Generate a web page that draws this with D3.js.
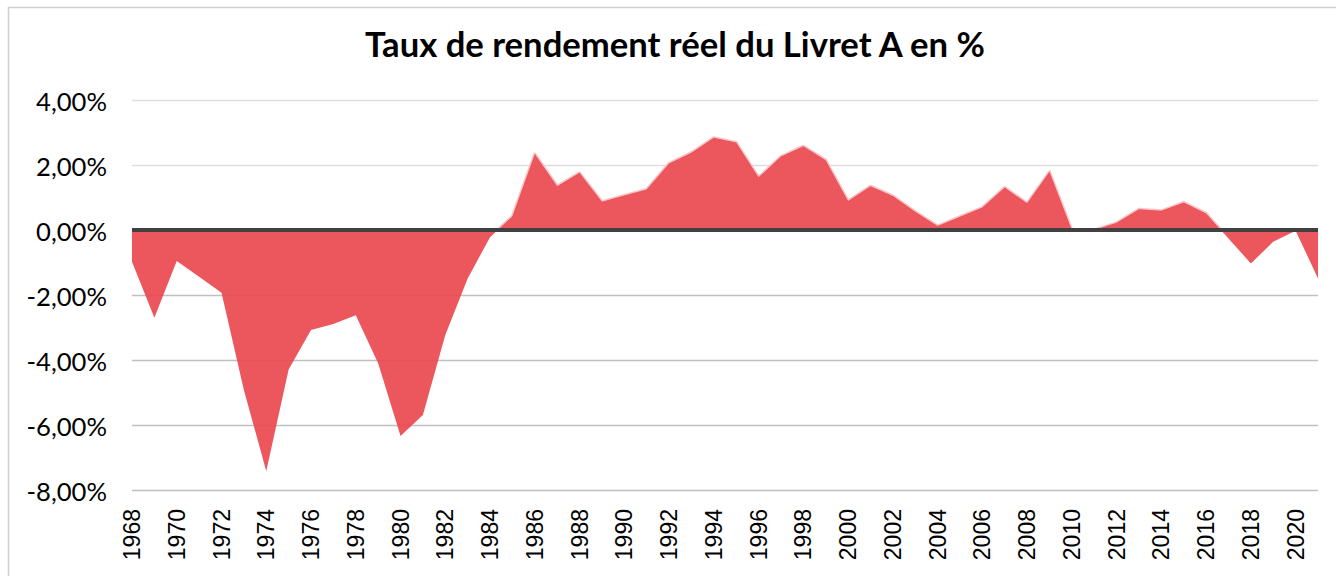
<!DOCTYPE html>
<html>
<head>
<meta charset="utf-8">
<script src="https://cdn.jsdelivr.net/npm/d3@7"></script>
<style>
  html, body { margin: 0; padding: 0; background: #fff; }
  svg { display: block; }
</style>
</head>
<body>
<svg id="chart" width="1336" height="576"></svg>
<script>
const years = d3.range(1968, 2022);
const rates = [
  -0.98, -2.70, -0.95, -1.44, -1.93, -4.92, -7.42, -4.29, -3.08, -2.89,
  -2.62, -4.10, -6.34, -5.69, -3.23, -1.49, -0.22, 0.42, 2.34, 1.35,
  1.76, 0.87, 1.06, 1.25, 2.05, 2.38, 2.84, 2.69, 1.62, 2.26,
  2.58, 2.15, 0.89, 1.35, 1.05, 0.56, 0.12, 0.41, 0.69, 1.31,
  0.82, 1.79, 0.00, 0.00, 0.22, 0.64, 0.59, 0.85, 0.51, -0.26,
  -1.03, -0.36, -0.02, -1.49
];
const yTicks = [4, 2, 0, -2, -4, -6, -8];
const xTickYears = d3.range(1968, 2021, 2);
const title = "Taux de rendement réel du Livret A en %";

const data = years.map((yr, i) => ({ year: yr, value: rates[i] }));
const svg = d3.select("#chart");

const pLeft = 132, pRight = 1318, pTop = 100, pBottom = 490;
const x = d3.scaleLinear().domain([1968, 2021]).range([pLeft, pRight]);
const y = d3.scaleLinear().domain([-8, 4]).range([pBottom, pTop]);

// frame
svg.append("rect").attr("x", 8.5).attr("y", 7.5).attr("width", 1340).attr("height", 600)
  .attr("fill", "#fff").attr("stroke", "#cfcfcf").attr("stroke-width", 1.5);

// gridlines
svg.append("g").selectAll("line").data(yTicks.filter(d => d !== 0)).join("line")
  .attr("x1", pLeft).attr("x2", pRight)
  .attr("y1", d => Math.round(y(d)) + 0.5).attr("y2", d => Math.round(y(d)) + 0.5)
  .attr("stroke", d => d > 0 ? "#dedede" : "#c0c0c0").attr("stroke-width", 1.5);

// clip above zero for the pale outline
svg.append("clipPath").attr("id", "above")
  .append("rect").attr("x", pLeft - 5).attr("y", 0).attr("width", pRight - pLeft + 10).attr("height", y(0));

const line = d3.line().x(d => x(d.year)).y(d => y(d.value));
svg.append("path").datum(data).attr("d", line)
  .attr("fill", "none").attr("stroke", "#f7c4c6").attr("stroke-width", 3)
  .attr("stroke-linejoin", "round").attr("clip-path", "url(#above)");

const area = d3.area().x(d => x(d.year)).y0(y(0)).y1(d => y(d.value));
svg.append("path").datum(data).attr("d", area)
  .attr("fill", "rgb(234,73,80)").attr("fill-opacity", 0.92);

// zero line
svg.append("line").attr("x1", pLeft).attr("x2", pRight)
  .attr("y1", y(0)).attr("y2", y(0))
  .attr("stroke", "#404040").attr("stroke-width", 4);

// y labels
const fmt = v => v.toFixed(2).replace(".", ",") + "%";
const yl = svg.append("g").selectAll("text").data(yTicks).join("text")
  .attr("x", 107).attr("y", d => y(d) + 11)
  .attr("text-anchor", "end")
  .attr("font-family", "Lato, 'Open Sans', sans-serif")
  .attr("font-size", 22).attr("fill", "#000")
  .text(fmt);

// x labels
svg.append("g").selectAll("text").data(xTickYears).join("text")
  .attr("transform", d => `translate(${x(d) + 8},${509}) rotate(-90)`)
  .attr("text-anchor", "end")
  .attr("font-family", "'Liberation Sans', Arial, sans-serif")
  .attr("font-size", 23).attr("fill", "#000")
  .text(d => d);

// title
const t = svg.append("text").attr("x", 675).attr("y", 57)
  .attr("text-anchor", "middle")
  .attr("font-family", "Lato, 'Open Sans', sans-serif")
  .attr("font-weight", "bold").attr("font-size", 28).attr("fill", "#000")
  .text(title);
const tw = t.node().getComputedTextLength();
t.attr("font-size", 28 * 620 / tw);

// fit y labels width
const n = yl.nodes()[0];
const w = n.getComputedTextLength();
yl.attr("font-size", 22 * 71 / w);
</script>
</body>
</html>
